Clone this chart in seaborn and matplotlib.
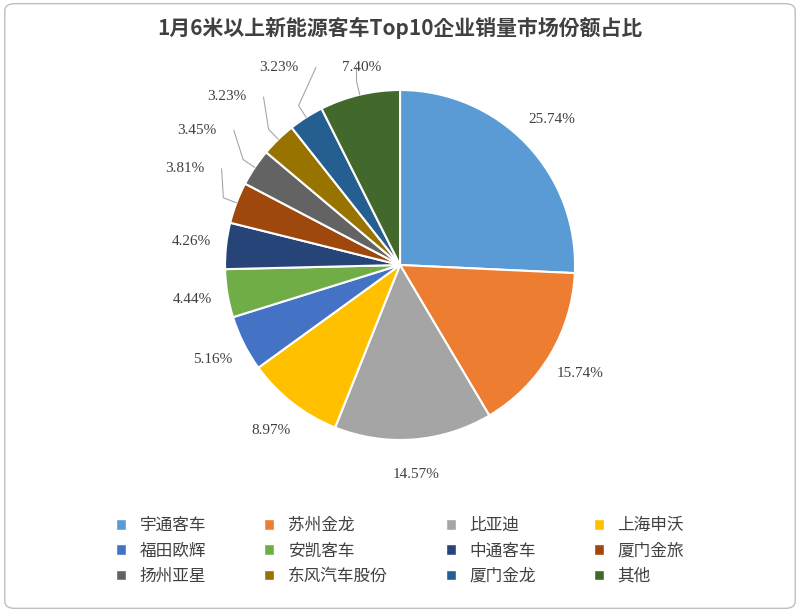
import matplotlib
matplotlib.use("Agg")
import matplotlib.pyplot as plt
from matplotlib import font_manager as fm
import seaborn as sns
import numpy as np
from matplotlib.patches import FancyBboxPatch, Patch

sns.set_theme(style="white")
companies = ["宇通客车","苏州金龙","比亚迪","上海申沃","福田欧辉","安凯客车","中通客车","厦门金旅","扬州亚星","东风汽车股份","厦门金龙","其他"]
shares = [25.74,15.74,14.57,8.97,5.16,4.44,4.26,3.81,3.45,3.23,3.23,7.40]
colors = ["#5B9BD5","#ED7D31","#A5A5A5","#FFC000","#4472C4","#70AD47",
          "#264478","#9E480E","#636363","#997300","#255E91","#43682B"]

cjk = [f for f in fm.findSystemFonts() if "CJK" in f]
cjk_reg = sorted([f for f in cjk if "Regular" in f] or cjk)
cjk_bold = sorted([f for f in cjk if "Bold" in f] or cjk_reg)
fp = fm.FontProperties(fname=cjk_reg[0], size=12) if cjk_reg else fm.FontProperties(family="Noto Sans CJK SC", size=12)
fpb = fm.FontProperties(fname=cjk_bold[0], size=15, weight="bold") if cjk_bold else fm.FontProperties(family="Noto Sans CJK SC", size=15, weight="bold")

fig = plt.figure(figsize=(8,6.12), dpi=100)
fig.patches.append(FancyBboxPatch((0.006,0.006),0.988,0.988,boxstyle="round,pad=0,rounding_size=0.012",
    transform=fig.transFigure, fill=False, ec="#BFBFBF", lw=1))
ax = fig.add_axes([0.2813,0.281,0.4375,0.572])
wedges,_ = ax.pie(shares, colors=colors, startangle=90, counterclock=False,
                  wedgeprops=dict(edgecolor="white", linewidth=1.5))
ax.set_xlim(-1,1); ax.set_ylim(-1,1); ax.set_aspect("equal")
ser = "Liberation Serif"
offs = {7:(-1.12,0.55),8:(-1.05,0.77),9:(-0.88,0.96),10:(-0.58,1.13),11:(-0.22,1.13)}
for i,(w,v) in enumerate(zip(wedges,shares)):
    a = np.deg2rad((w.theta1+w.theta2)/2)
    x,y = np.cos(a),np.sin(a)
    if i in offs:
        tx,ty = offs[i]
        ax.plot([x,x*1.08,tx+0.1 if i<11 else x*1.08],[y,y*1.08,ty],color="#A6A6A6",lw=0.8,clip_on=False)
        ax.text(tx,ty,f"{v:.2f}%",ha="right" if i<11 else "center",va="center",fontsize=11,family=ser,color="#404040")
    else:
        ax.text(1.2*x,1.2*y,f"{v:.2f}%",ha="center",va="center",fontsize=11,family=ser,color="#404040")
fig.text(0.5,0.955,"1月6米以上新能源客车Top10企业销量市场份额占比",ha="center",va="center",
         fontproperties=fpb,color="#404040")
handles=[Patch(facecolor=c,label=n) for c,n in zip(colors,companies)]
order=[r*4+c for c in range(4) for r in range(3)]
fig.legend(handles=[handles[k] for k in order],loc="lower center",bbox_to_anchor=(0.5,0.02),ncol=4,frameon=False,
           prop=fp,handlelength=0.6,handleheight=0.6,columnspacing=3.5,labelcolor="#404040")
fig.savefig("out.png",dpi=100)
